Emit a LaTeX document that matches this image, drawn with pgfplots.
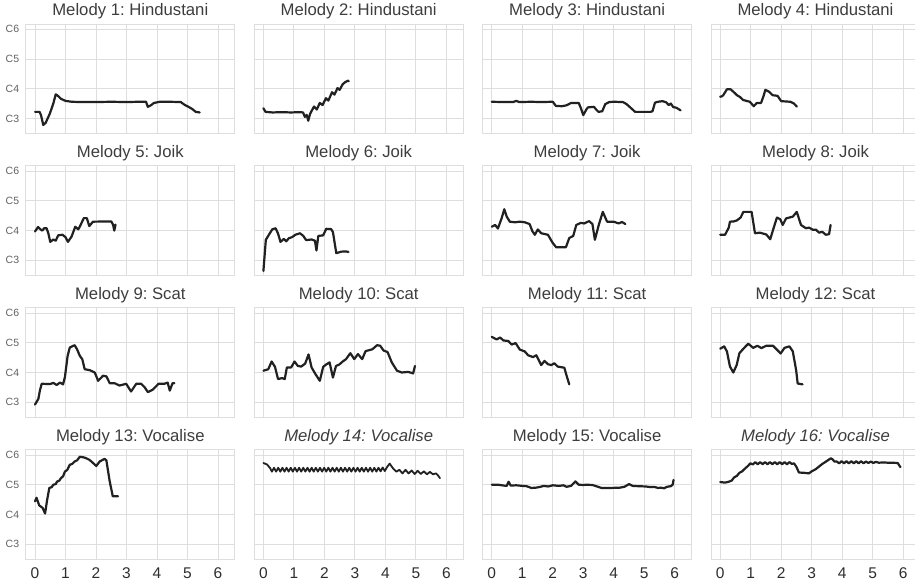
\documentclass[border=0pt]{standalone}
\usepackage{fontspec}
\setmainfont{Liberation Sans}
\usepackage{pgfplots}
\pgfplotsset{compat=1.18}
\frenchspacing

\newcommand\titlefont{\fontsize{16.7bp}{20bp}\selectfont}
\newcommand\xtickfont{\fontsize{15.5bp}{18bp}\selectfont}
\newcommand\ytickfont{\fontsize{10.5bp}{12bp}\selectfont}

\pgfplotsset{
  mel/.style={
    scale only axis, width=208.9bp, height=109.3bp,
    xmin=-0.3, xmax=6.55, ymin=2.5, ymax=6.18,
    xtick={0,1,2,3,4,5,6}, ytick={3,4,5,6},
    xticklabels={}, yticklabels={},
    grid=major,
    major grid style={draw=black!13, line width=0.8bp},
    axis line style={draw=black!13, line width=0.8bp},
    major tick length=0pt,
    anchor=south west,
    title style={anchor=base, yshift=2bp, inner sep=0pt, font=\titlefont, text=black!76},
    /pgf/number format/assume math mode=true,
  },
  leftcol/.style={
    yticklabels={C3,C4,C5,C6},
    yticklabel style={font=\ytickfont, text=black!62, anchor=east, inner sep=0pt, xshift=-6.5bp},
  },
  bottomrow/.style={
    xticklabels={0,1,2,3,4,5,6},
    xticklabel style={font=\xtickfont, text=black!82, anchor=north, inner sep=0pt, yshift=-9bp},
  },
  ml/.style={draw=black!87, line width=2.2bp, line join=round, line cap=round, mark=none},
}

\begin{document}
\begin{tikzpicture}
\useasboundingbox (0,0) rectangle (915bp,581bp);

% ---------- row 1: Hindustani ----------
\begin{axis}[mel, leftcol, at={(25.85bp,447.75bp)}, title={Melody 1: Hindustani}]
\addplot[ml] coordinates {(0,3.22)(0.15,3.22)(0.2,3.1)(0.27,2.78)(0.35,2.85)(0.49,3.17)(0.6,3.5)(0.68,3.81)(0.75,3.76)(0.85,3.66)(1.0,3.59)(1.2,3.56)(1.5,3.55)(2.0,3.55)(2.5,3.56)(3.0,3.55)(3.4,3.56)(3.64,3.56)(3.7,3.39)(3.8,3.44)(3.9,3.52)(4.1,3.56)(4.4,3.56)(4.78,3.55)(4.9,3.46)(5.05,3.38)(5.15,3.32)(5.27,3.22)(5.4,3.2)};
\end{axis}
\begin{axis}[mel, at={(254.25bp,447.75bp)}, title={Melody 2: Hindustani}]
\addplot[ml] coordinates {(0,3.34)(0.07,3.22)(0.3,3.2)(0.6,3.21)(0.9,3.2)(1.2,3.21)(1.3,3.2)(1.36,3.05)(1.42,3.12)(1.47,2.92)(1.53,3.15)(1.58,3.25)(1.66,3.4)(1.75,3.3)(1.85,3.52)(1.94,3.45)(2.05,3.68)(2.13,3.6)(2.25,3.88)(2.33,3.8)(2.43,4.02)(2.5,3.96)(2.6,4.15)(2.68,4.22)(2.77,4.27)(2.8,4.25)};
\end{axis}
\begin{axis}[mel, at={(482.65bp,447.75bp)}, title={Melody 3: Hindustani}]
\addplot[ml] coordinates {(0,3.56)(0.4,3.55)(0.7,3.55)(0.8,3.59)(0.9,3.55)(1.3,3.56)(1.6,3.55)(2.0,3.56)(2.1,3.42)(2.3,3.41)(2.45,3.44)(2.6,3.52)(2.85,3.52)(2.92,3.35)(3.0,3.11)(3.1,3.3)(3.15,3.37)(3.35,3.39)(3.42,3.3)(3.5,3.22)(3.62,3.24)(3.72,3.48)(3.85,3.55)(4.0,3.56)(4.3,3.55)(4.42,3.48)(4.55,3.36)(4.7,3.22)(5.2,3.22)(5.27,3.24)(5.35,3.53)(5.45,3.56)(5.6,3.58)(5.72,3.54)(5.8,3.45)(5.87,3.5)(5.95,3.38)(6.05,3.36)(6.19,3.27)};
\end{axis}
\begin{axis}[mel, at={(711.05bp,447.75bp)}, title={Melody 4: Hindustani}]
\addplot[ml] coordinates {(0,3.73)(0.05,3.74)(0.1,3.78)(0.22,3.98)(0.34,3.98)(0.45,3.88)(0.55,3.78)(0.65,3.72)(0.75,3.62)(0.97,3.56)(1.1,3.41)(1.2,3.52)(1.34,3.52)(1.42,3.75)(1.48,3.96)(1.6,3.9)(1.72,3.78)(1.88,3.76)(2.0,3.58)(2.3,3.56)(2.42,3.5)(2.51,3.4)};
\end{axis}

% ---------- row 2: Joik ----------
\begin{axis}[mel, leftcol, at={(25.85bp,305.85bp)}, title={Melody 5: Joik}]
\addplot[ml] coordinates {(0,3.97)(0.1,4.12)(0.18,4.04)(0.24,4.0)(0.3,4.08)(0.38,4.08)(0.44,3.9)(0.5,3.62)(0.6,3.7)(0.68,3.66)(0.76,3.84)(0.9,3.86)(1.0,3.78)(1.08,3.62)(1.2,3.8)(1.32,4.13)(1.42,4.04)(1.5,4.2)(1.6,4.42)(1.7,4.42)(1.78,4.15)(1.9,4.3)(2.5,4.31)(2.56,4.2)(2.6,4.0)(2.64,4.2)};
\end{axis}
\begin{axis}[mel, at={(254.25bp,305.85bp)}, title={Melody 6: Joik}]
\addplot[ml] coordinates {(0,2.64)(0.08,3.69)(0.18,3.86)(0.29,4.04)(0.4,4.08)(0.48,3.9)(0.56,3.62)(0.67,3.72)(0.75,3.64)(0.83,3.74)(0.94,3.78)(1.05,3.86)(1.2,3.91)(1.31,3.82)(1.4,3.68)(1.58,3.7)(1.69,3.66)(1.74,3.33)(1.8,3.82)(1.96,3.84)(2.06,4.06)(2.22,4.05)(2.28,3.95)(2.39,3.24)(2.55,3.29)(2.7,3.3)(2.79,3.28)};
\end{axis}
\begin{axis}[mel, at={(482.65bp,305.85bp)}, title={Melody 7: Joik}]
\addplot[ml] coordinates {(0,4.13)(0.11,4.19)(0.2,4.07)(0.32,4.41)(0.41,4.72)(0.49,4.47)(0.59,4.3)(0.76,4.28)(0.92,4.3)(1.08,4.28)(1.24,4.22)(1.33,3.98)(1.41,3.86)(1.51,4.04)(1.62,3.91)(1.84,3.86)(2.0,3.58)(2.11,3.44)(2.43,3.44)(2.54,3.75)(2.67,3.82)(2.77,4.19)(2.92,4.26)(3.03,4.24)(3.19,4.32)(3.3,4.22)(3.38,3.69)(3.51,4.2)(3.64,4.63)(3.78,4.3)(4.0,4.3)(4.16,4.24)(4.27,4.29)(4.38,4.22)};
\end{axis}
\begin{axis}[mel, at={(711.05bp,305.85bp)}, title={Melody 8: Joik}]
\addplot[ml] coordinates {(0,3.86)(0.16,3.86)(0.28,4.1)(0.32,4.3)(0.45,4.31)(0.54,4.34)(0.67,4.44)(0.76,4.63)(1.03,4.63)(1.14,3.91)(1.3,3.93)(1.51,3.87)(1.64,3.71)(1.75,4.08)(1.86,4.44)(1.97,4.38)(2.05,4.19)(2.16,4.41)(2.38,4.47)(2.51,4.63)(2.65,4.19)(2.81,4.08)(2.92,4.1)(3.03,4.03)(3.14,4.03)(3.24,3.93)(3.35,3.96)(3.46,3.86)(3.57,3.88)(3.62,4.19)};
\end{axis}

% ---------- row 3: Scat ----------
\begin{axis}[mel, leftcol, at={(25.85bp,163.95bp)}, title={Melody 9: Scat}]
\addplot[ml] coordinates {(0,2.92)(0.11,3.11)(0.16,3.39)(0.22,3.62)(0.49,3.61)(0.6,3.65)(0.71,3.58)(0.82,3.66)(0.92,3.6)(0.98,3.84)(1.07,4.56)(1.14,4.84)(1.3,4.92)(1.38,4.78)(1.47,4.56)(1.55,4.45)(1.63,4.11)(1.79,4.08)(1.96,4.0)(2.07,3.72)(2.23,3.89)(2.34,3.87)(2.45,3.64)(2.61,3.64)(2.77,3.56)(2.99,3.62)(3.15,3.36)(3.32,3.62)(3.48,3.62)(3.59,3.51)(3.7,3.34)(3.86,3.42)(4.05,3.62)(4.24,3.62)(4.35,3.66)(4.42,3.39)(4.51,3.64)(4.57,3.64)};
\end{axis}
\begin{axis}[mel, at={(254.25bp,163.95bp)}, title={Melody 10: Scat}]
\addplot[ml] coordinates {(0,4.06)(0.16,4.11)(0.27,4.37)(0.38,4.19)(0.48,3.78)(0.61,3.81)(0.7,3.78)(0.77,4.17)(0.91,4.17)(1.02,4.37)(1.13,4.22)(1.24,4.2)(1.37,4.3)(1.48,4.61)(1.58,4.17)(1.71,3.94)(1.85,3.72)(1.96,4.19)(2.06,4.27)(2.17,4.34)(2.28,3.83)(2.38,4.22)(2.49,4.27)(2.6,4.37)(2.71,4.45)(2.85,4.65)(2.98,4.45)(3.1,4.62)(3.24,4.45)(3.35,4.72)(3.57,4.78)(3.73,4.92)(3.83,4.9)(3.94,4.74)(4.07,4.69)(4.21,4.34)(4.38,4.06)(4.54,4.0)(4.75,4.02)(4.91,3.97)(4.97,4.22)};
\end{axis}
\begin{axis}[mel, at={(482.65bp,163.95bp)}, title={Melody 11: Scat}]
\addplot[ml] coordinates {(0,5.2)(0.16,5.11)(0.27,5.18)(0.38,5.08)(0.54,5.06)(0.65,4.94)(0.78,4.99)(0.92,4.77)(1.08,4.71)(1.19,4.58)(1.35,4.52)(1.46,4.58)(1.62,4.25)(1.73,4.39)(1.84,4.28)(1.95,4.25)(2.05,4.31)(2.16,4.2)(2.38,4.16)(2.43,3.97)(2.54,3.6)};
\end{axis}
\begin{axis}[mel, at={(711.05bp,163.95bp)}, title={Melody 12: Scat}]
\addplot[ml] coordinates {(0,4.8)(0.13,4.88)(0.22,4.71)(0.32,4.2)(0.43,4.0)(0.54,4.25)(0.63,4.65)(0.76,4.8)(0.92,4.97)(1.08,4.83)(1.22,4.9)(1.35,4.82)(1.51,4.9)(1.73,4.9)(1.86,4.77)(1.98,4.64)(2.11,4.83)(2.27,4.88)(2.38,4.71)(2.49,4.08)(2.54,3.63)(2.7,3.6)};
\end{axis}

% ---------- row 4: Vocalise ----------
\begin{axis}[mel, leftcol, bottomrow, at={(25.85bp,22.05bp)}, title={Melody 13: Vocalise}]
\addplot[ml] coordinates {(0,4.44)(0.05,4.56)(0.14,4.3)(0.25,4.22)(0.33,4.03)(0.4,4.5)(0.47,4.89)(0.55,4.92)(0.6,5.0)(0.68,5.02)(0.72,5.1)(0.8,5.14)(0.85,5.22)(0.92,5.28)(0.98,5.44)(1.06,5.5)(1.14,5.67)(1.22,5.7)(1.3,5.78)(1.38,5.82)(1.47,5.94)(1.6,5.92)(1.68,5.89)(1.78,5.84)(1.85,5.78)(2.01,5.63)(2.12,5.78)(2.28,5.87)(2.34,5.82)(2.45,5.11)(2.55,4.61)(2.72,4.61)};
\end{axis}
\begin{axis}[mel, bottomrow, at={(254.25bp,22.05bp)}, title={\itshape Melody 14: Vocalise}]
\addplot[ml, line width=1.8bp] coordinates {(0,5.73)(0.12,5.68)(0.22,5.56)
(0.280,5.44)(0.349,5.57)(0.417,5.44)(0.486,5.57)(0.554,5.44)(0.623,5.57)(0.691,5.44)(0.760,5.57)
(0.828,5.44)(0.897,5.57)(0.965,5.44)(1.034,5.57)(1.102,5.44)(1.171,5.57)(1.239,5.44)(1.308,5.57)
(1.376,5.44)(1.445,5.57)(1.513,5.44)(1.582,5.57)(1.650,5.44)(1.719,5.57)(1.787,5.44)(1.856,5.57)
(1.924,5.44)(1.993,5.57)(2.061,5.44)(2.130,5.57)(2.198,5.44)(2.267,5.57)(2.335,5.44)(2.404,5.57)
(2.472,5.44)(2.541,5.57)(2.609,5.44)(2.678,5.57)(2.746,5.44)(2.815,5.57)(2.883,5.44)(2.952,5.57)
(3.020,5.44)(3.089,5.57)(3.157,5.44)(3.226,5.57)(3.294,5.44)(3.363,5.57)(3.431,5.44)(3.500,5.57)
(3.568,5.44)(3.637,5.57)(3.705,5.44)(3.774,5.57)(3.842,5.45)(3.911,5.58)(3.979,5.46)
(4.06,5.6)(4.14,5.71)(4.25,5.55)(4.36,5.44)
(4.46,5.50)(4.56,5.38)(4.66,5.50)(4.76,5.38)(4.86,5.48)(4.96,5.36)(5.06,5.47)(5.16,5.36)
(5.26,5.45)(5.36,5.35)(5.46,5.43)(5.56,5.35)(5.66,5.38)(5.72,5.32)(5.79,5.22)};
\end{axis}
\begin{axis}[mel, bottomrow, at={(482.65bp,22.05bp)}, title={Melody 15: Vocalise}]
\addplot[ml] coordinates {(0,5.0)(0.2,5.0)(0.4,4.97)(0.49,4.96)(0.55,5.1)(0.62,4.97)(0.8,4.98)(1.0,4.96)(1.14,4.95)(1.3,4.89)(1.45,4.9)(1.6,4.93)(1.7,4.96)(1.85,4.94)(2.0,4.98)(2.2,4.96)(2.35,4.98)(2.45,4.93)(2.6,4.96)(2.74,5.11)(2.85,5.0)(3.0,4.99)(3.1,5.0)(3.3,4.99)(3.45,4.94)(3.6,4.89)(3.9,4.89)(4.2,4.9)(4.35,4.93)(4.5,5.02)(4.62,4.96)(4.8,4.95)(5.05,4.94)(5.2,4.92)(5.35,4.92)(5.45,4.89)(5.55,4.9)(5.65,4.88)(5.75,4.93)(5.87,4.95)(5.93,5.0)(5.96,5.16)};
\end{axis}
\begin{axis}[mel, bottomrow, at={(711.05bp,22.05bp)}, title={\itshape Melody 16: Vocalise}]
\addplot[ml] coordinates {(0,5.09)(0.16,5.07)(0.28,5.1)(0.38,5.14)(0.45,5.24)(0.55,5.3)(0.63,5.4)(0.72,5.45)(0.82,5.55)(0.9,5.62)(0.99,5.72)
(1.07,5.68)(1.15,5.76)(1.23,5.69)(1.31,5.76)(1.39,5.69)(1.47,5.76)(1.55,5.69)(1.63,5.76)(1.71,5.69)(1.79,5.76)(1.87,5.69)(1.95,5.76)(2.03,5.69)(2.11,5.76)(2.19,5.69)(2.27,5.76)(2.35,5.7)(2.42,5.72)
(2.5,5.6)(2.58,5.41)(2.75,5.4)(2.91,5.38)(3.0,5.45)(3.13,5.52)(3.25,5.62)(3.35,5.7)(3.5,5.8)(3.63,5.89)(3.7,5.84)(3.74,5.78)
(3.82,5.78)(3.9,5.72)(3.98,5.79)(4.06,5.72)(4.14,5.79)(4.22,5.72)(4.3,5.79)(4.38,5.72)(4.46,5.79)(4.54,5.72)(4.62,5.79)(4.7,5.72)(4.78,5.78)(4.86,5.73)(4.94,5.78)(5.02,5.73)(5.1,5.77)(5.2,5.74)(5.35,5.75)(5.5,5.74)(5.65,5.74)(5.82,5.73)(5.91,5.59)};
\end{axis}
\end{tikzpicture}
\end{document}
